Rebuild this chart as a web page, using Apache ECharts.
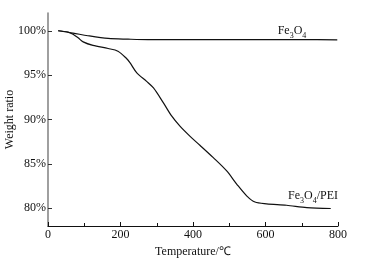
<!DOCTYPE html>
<html><head><meta charset="utf-8">
<script src="https://cdn.jsdelivr.net/npm/echarts@6/dist/echarts.min.js"></script>
<style>html,body{margin:0;padding:0;background:#fff}#c{width:371px;height:261px}</style>
</head><body><div id="c"></div>
<script>
var fe3o4Data = [[28,100.0],[69,99.74],[110,99.44],[166,99.13],[221,99.05],[276,99.0],[400,99.0],[500,99.0],[600,99.0],[700,99.0],[798,98.98]];
var peiData = [[28,100.0],[55,99.85],[69,99.6],[83,99.2],[97,98.75],[124,98.35],[166,98.0],[193,97.7],[216,96.9],[226,96.4],[245,95.25],[272,94.3],[291,93.56],[318,91.9],[341,90.4],[364,89.25],[392,88.1],[419,87.1],[456,85.7],[493,84.2],[521,82.7],[548,81.4],[571,80.7],[603,80.5],[658,80.34],[714,80.08],[780,79.97]];
var yTicks = [80,85,90,95,100];
var xTicks = [0,200,400,600,800];
var labels = [{text:'{n|Fe}{s|3}{n|O}{s|4}', coord:[673,100.1]},{text:'{n|Fe}{s|3}{n|O}{s|4}{n|/PEI}', coord:[731,81.5]}];
var font = 'Liberation Serif';
var rich = {n:{fontFamily:font,fontSize:12,color:'#111',lineHeight:14,verticalAlign:'bottom'},s:{fontFamily:font,fontSize:8,color:'#111',lineHeight:14,verticalAlign:'bottom',padding:[0,0,-3,0]}};
var chart = echarts.init(document.getElementById('c'));
chart.setOption({
  animation:false,
  grid:{left:48,right:33,top:13,bottom:35,containLabel:false,outerBoundsMode:'none'},
  xAxis:{type:'value',min:0,max:800,interval:200,
    name:'Temperature/℃',nameLocation:'middle',nameGap:20,nameMoveOverlap:false,
    nameTextStyle:{fontFamily:font,fontSize:12,color:'#111'},
    axisLine:{lineStyle:{color:'#111',width:1}},
    axisTick:{inside:true,length:4,lineStyle:{color:'#111'}},
    minorTick:{show:true,splitNumber:2,length:3,lineStyle:{color:'#111'}},
    axisLabel:{fontFamily:font,fontSize:12,color:'#111',margin:3,customValues:xTicks},
    splitLine:{show:false}},
  yAxis:{type:'value',min:78,max:102,
    name:'Weight ratio',nameLocation:'middle',nameGap:32,nameMoveOverlap:false,
    nameTextStyle:{fontFamily:font,fontSize:12,color:'#111'},
    axisLine:{show:true,lineStyle:{color:'#888',width:1.6}},
    axisTick:{show:true,inside:true,length:4,customValues:yTicks,lineStyle:{color:'#333'}},
    axisLabel:{fontFamily:font,fontSize:12,color:'#111',margin:2,customValues:yTicks,formatter:'{value}%'},
    splitLine:{show:false}},
  series:[
    {type:'line',data:fe3o4Data,smooth:0.3,symbol:'none',lineStyle:{color:'#111',width:1.2},
     markPoint:{symbolSize:0,data:[{coord:labels[0].coord,label:{show:true,formatter:labels[0].text,rich:rich}}]}},
    {type:'line',data:peiData,smooth:0.3,symbol:'none',lineStyle:{color:'#111',width:1.2},
     markPoint:{symbolSize:0,data:[{coord:labels[1].coord,label:{show:true,formatter:labels[1].text,rich:rich}}]}}
  ]
});
</script></body></html>
